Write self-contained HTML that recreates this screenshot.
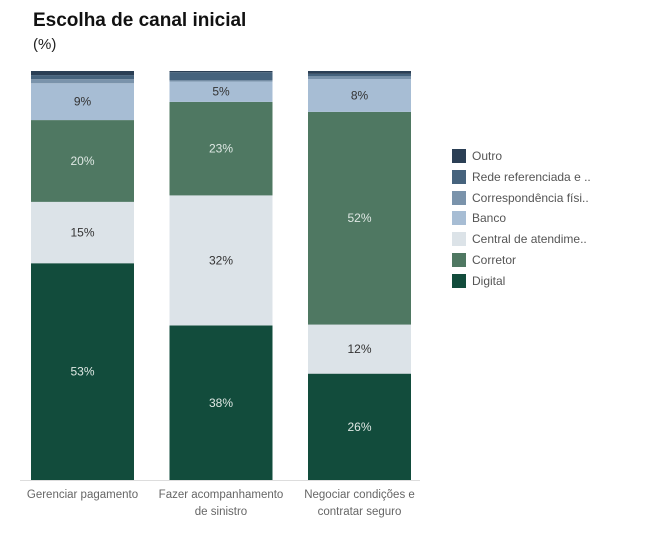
<!DOCTYPE html>
<html><head><meta charset="utf-8"><style>
body{margin:0;background:#fff;font-family:"Liberation Sans",sans-serif;}
#wrap{position:relative;width:670px;height:543px;overflow:hidden}
.title{position:absolute;left:33px;top:10px;font-size:19px;font-weight:bold;color:#111}
.sub{position:absolute;left:33px;top:36px;font-size:15px;color:#222}
.leg{position:absolute;left:452px;font-size:12px;color:#555;height:16px;line-height:14px}
.leg span{display:inline-block;width:14px;height:14px;vertical-align:top;margin-right:6px}
</style></head><body>
<div id="wrap">
<div class="title">Escolha de canal inicial</div>
<div class="sub">(%)</div>
<svg id="svg" width="670" height="543" style="position:absolute;left:0;top:0"></svg>
<div id="legend"></div>
</div>
<script>
const categories = ["Gerenciar pagamento","Fazer acompanhamento de sinistro","Negociar condições e contratar seguro"];
const series = ["Digital","Central de atendime..","Corretor","Banco","Correspondência físi..","Rede referenciada e ..","Outro"];
const digital = [53,38,26];
const central = [15,32,12];
const corretor = [20,23,52];
const banco = [9,5,8];
const correspondencia = [1,0.3,0.7];
const rede = [1,2,0.6];
const outro = [1,0.3,0.7];
const values = [digital,central,corretor,banco,correspondencia,rede,outro];
const legendOrder = [6,5,4,3,1,2,0];
const catLines = [["Gerenciar pagamento"],["Fazer acompanhamento","de sinistro"],["Negociar condições e","contratar seguro"]];
const colors = ["#124c3c","#dce3e8","#4f7862","#a7bdd4","#7a93ab","#46637d","#2b3f55"];
const textColors = ["#dfe8e4","#333","#dfe8e4","#333","#333","#fff","#fff"];
const NS="http://www.w3.org/2000/svg";
const svg=document.getElementById('svg');
const top0=71,bottom=480,barW=103;
const xPos=i=>31+i*138.5;
const y=v=>bottom-(v/100)*(bottom-top0);
categories.forEach((c,i)=>{
  let total=values.reduce((s,a)=>s+a[i],0);
  let acc=0;
  values.forEach((arr,k)=>{
    const v=arr[i]/total*100;
    const r=document.createElementNS(NS,'rect');
    
    
    r.setAttribute('x',xPos(i));r.setAttribute('width',barW);
    r.setAttribute('y',y(acc+v));r.setAttribute('height',y(acc)-y(acc+v));
    r.setAttribute('fill',colors[k]);svg.appendChild(r);
    if(arr[i]>=3){
      const t=document.createElementNS(NS,'text');
      
      
      t.setAttribute('x',xPos(i)+barW/2);t.setAttribute('y',(y(acc)+y(acc+v))/2+4);
      t.setAttribute('text-anchor','middle');t.setAttribute('font-size','12');
      t.setAttribute('fill',textColors[k]);t.textContent=arr[i]+'%';svg.appendChild(t);
    }
    acc+=v;
  });
  catLines[i].forEach((ln,j)=>{
    const t=document.createElementNS(NS,'text');
    
    
    t.setAttribute('x',xPos(i)+barW/2);t.setAttribute('y',498+j*17);
    t.setAttribute('text-anchor','middle');t.setAttribute('font-size','11.5');
    t.setAttribute('fill','#666');t.textContent=ln;svg.appendChild(t);
  });
});
const ax=document.createElementNS(NS,'line');


ax.setAttribute('x1',20);ax.setAttribute('x2',420);ax.setAttribute('y1',480.5);ax.setAttribute('y2',480.5);
ax.setAttribute('stroke','#ddd');svg.appendChild(ax);
const lg=document.getElementById('legend');
legendOrder.forEach((k,n)=>{
  const d=document.createElement('div');
  
  
  d.className='leg';d.style.top=(149+n*20.8)+'px';
  d.innerHTML='<span style="background:'+colors[k]+'"></span>'+series[k];
  lg.appendChild(d);
});
</script>
</body></html>
